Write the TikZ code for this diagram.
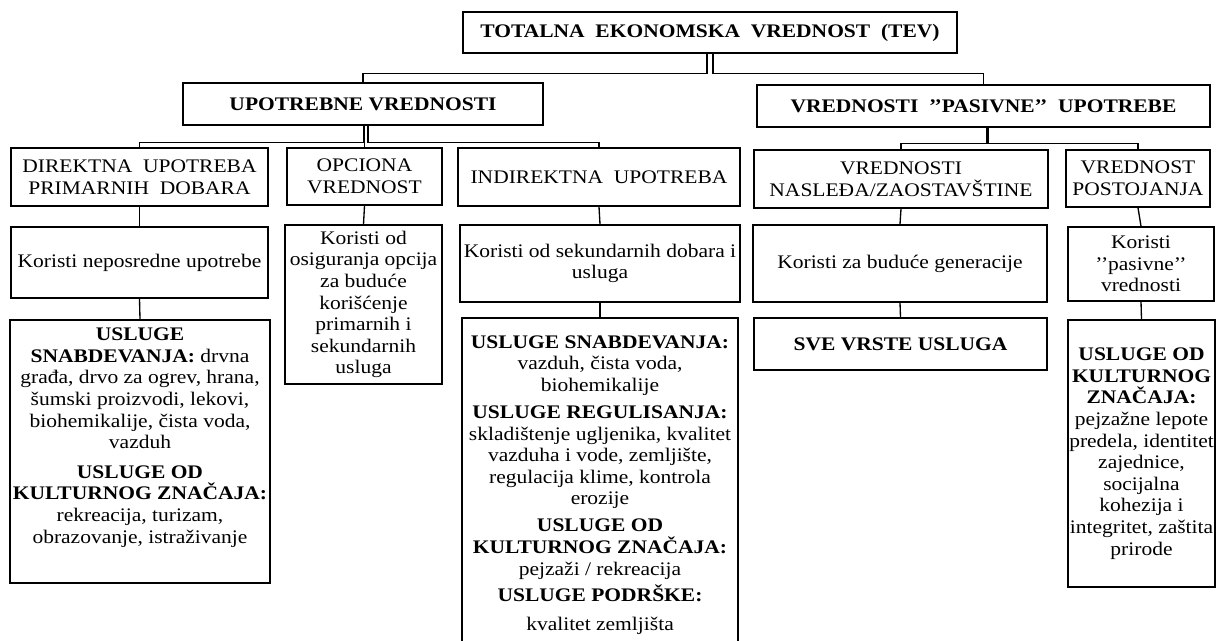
\documentclass[tikz,border=0pt]{standalone}
\usepackage{fontspec}
\setmainfont{Liberation Serif}[FakeStretch=1.12]
\usetikzlibrary{calc}

\begin{document}
\begin{tikzpicture}[x=0.75pt,y=-0.75pt,
  box/.style={draw, line width=1.2pt, inner sep=0pt, align=center,
    font=\fontsize{14.4}{16.2}\selectfont},
  % a box given by its left, top, right and bottom edges
  area/.style n args={4}{minimum width={(#3-#1)*0.75pt},
    minimum height={(#4-#2)*0.75pt}, at={({(#1+#3)/2},{(#2+#4)/2})}},
  link/.style={line width=1pt},
]
\useasboundingbox (0,0) rectangle (1216,641);

% level 0
\node[box, area={463}{12}{957}{53}] (tev) {\textbf{TOTALNA\ \ EKONOMSKA\ \ VREDNOST\ \ (TEV)}};

% level 1
\node[box, area={183}{83}{543}{125}] (up) {\textbf{UPOTREBNE VREDNOSTI}};
\node[box, area={757}{85}{1210}{127}] (vr) {\textbf{VREDNOSTI\ \ ’’PASIVNE’’\ \ UPOTREBE}};

% level 2
\node[box, area={11}{148}{268}{206}] (dir) {DIREKTNA\ \ UPOTREBA\\PRIMARNIH\ \ DOBARA};
\node[box, area={287}{148}{442}{205}] (opc) {OPCIONA\\VREDNOST};
\node[box, area={458}{148}{740}{206}] (ind) {INDIREKTNA\ \ UPOTREBA};
\node[box, area={754}{150}{1048}{208}] (nas) {VREDNOSTI\\NASLEĐA/ZAOSTAVŠTINE};
\node[box, area={1066}{150}{1210}{207}] (pos) {VREDNOST\\POSTOJANJA};

% level 3
\node[box, area={11}{227}{268}{298}] (k1) {Koristi neposredne upotrebe};
\node[box, area={285}{225}{442}{384}] (k2) {Koristi od\\osiguranja opcija\\za buduće\\korišćenje\\primarnih i\\sekundarnih\\usluga};
\node[box, area={460}{225}{740}{302}] (k3) {Koristi od sekundarnih dobara i\\usluga};
\node[box, area={753}{225}{1047}{302}] (k4) {Koristi za buduće generacije};
\node[box, area={1068}{227}{1214}{301}] (k5) {Koristi\\’’pasivne’’\\vrednosti};

% level 4 (the first box keeps its text near the top)
\node[box, area={10}{320}{270}{583}, text depth=24pt] (u1) {\textbf{USLUGE}\\\textbf{SNABDEVANJA:} drvna\\građa, drvo za ogrev, hrana,\\šumski proizvodi, lekovi,\\biohemikalije, čista voda,\\vazduh\\[6pt]\textbf{USLUGE OD}\\\textbf{KULTURNOG ZNAČAJA:}\\rekreacija, turizam,\\obrazovanje, istraživanje};
\node[box, area={462}{318}{738}{652}] (u3) {\textbf{USLUGE SNABDEVANJA:}\\vazduh, čista voda,\\biohemikalije\\[4pt]\textbf{USLUGE REGULISANJA:}\\skladištenje ugljenika, kvalitet\\vazduha i vode, zemljište,\\regulacija klime, kontrola\\erozije\\[4pt]\textbf{USLUGE OD}\\\textbf{KULTURNOG ZNAČAJA:}\\pejzaži / rekreacija\\[4pt]\textbf{USLUGE PODRŠKE:}\\[5pt]kvalitet zemljišta};
\node[box, area={754}{318}{1047}{370}] (u4) {\textbf{SVE VRSTE USLUGA}};
\node[box, area={1068}{320}{1215}{587}] (u5) {\textbf{USLUGE OD}\\\textbf{KULTURNOG}\\\textbf{ZNAČAJA:}\\pejzažne lepote\\predela, identitet\\zajednice,\\socijalna\\kohezija i\\integritet, zaštita\\prirode};

% connectors from the total value
\draw[link] ($(tev.south)+(-3,0)$) -- ++(0,20) -| (up.north);
\draw[link] ($(tev.south)+(3,0)$) -- ++(0,20) -| (vr.north);

% connectors from the use values
\draw[link] ($(up.south)+(1,0)$) -- ++(0,17) -| (dir.north);
\draw[link] (opc.north |- up.south) -- (opc.north);
\draw[link] ($(up.south)+(5,0)$) -- ++(0,17) -| (ind.north);

% connectors from the passive use values
\draw[link, line width=1.6pt] ($(vr.south)+(4,0)$) -- ++(0,16);
\draw[link] ($(vr.south)+(4,16)$) -| (nas.north);
\draw[link] ($(vr.south)+(4,16)$) -| (pos.north);

% vertical chains
\draw[link] (dir.south) -- (k1.north);
\draw[link] (opc.south) -- (k2.north);
\draw[link] (ind.south) -- (k3.north);
\draw[link] (nas.south) -- (k4.north);
\draw[link] (pos.south) -- (k5.north);
\draw[link] (k1.south) -- (u1.north);
\draw[link] (k3.south) -- (u3.north);
\draw[link] (k4.south) -- (u4.north);
\draw[link] (k5.south) -- (u5.north);
\end{tikzpicture}
\end{document}
